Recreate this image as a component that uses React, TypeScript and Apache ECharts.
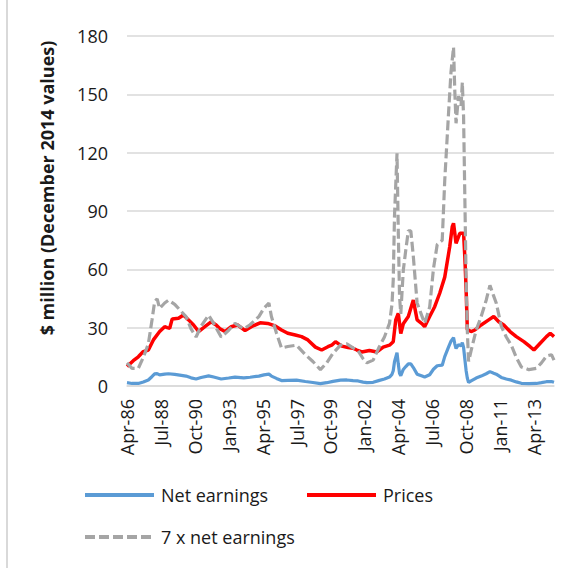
import React, { useEffect, useRef } from "react";
import * as echarts from "echarts";

// Monthly category axis: Apr-86 .. Aug-14
const MONTH_NAMES = ["Jan", "Feb", "Mar", "Apr", "May", "Jun", "Jul", "Aug", "Sep", "Oct", "Nov", "Dec"];
const START_YEAR = 1986;
const START_MONTH = 3; // April
const MONTH_COUNT = 341;
const categories: string[] = Array.from({ length: MONTH_COUNT }, (_, i) => {
  const n = START_MONTH + i;
  const yy = (START_YEAR + Math.floor(n / 12)) % 100;
  return MONTH_NAMES[n % 12] + "-" + String(yy).padStart(2, "0");
});

const yTicks = [0, 30, 60, 90, 120, 150, 180];

// Net earnings ($ million, Dec 2014 values)
const earningsMonths = [
  "Apr-86", "Aug-86", "Jan-87", "May-87", "Sep-87", "Dec-87", "Feb-88", "Apr-88", "Jun-88", "Oct-88",
  "Jan-89", "Jun-89", "Oct-89", "Mar-90", "Jul-90", "Nov-90", "Mar-91", "Sep-91", "Jan-92", "Jul-92",
  "Jan-93", "Jun-93", "Jan-94", "Jun-94", "Jan-95", "May-95", "Sep-95", "Nov-95", "Mar-96", "Jul-96",
  "Dec-96", "Jul-97", "Feb-98", "Aug-98", "Feb-99", "Jul-99", "Dec-99", "Jun-00", "Nov-00", "Apr-01",
  "Aug-01", "Dec-01", "Mar-02", "Aug-02", "Jan-03", "May-03", "Sep-03", "Nov-03", "Dec-03", "Jan-04",
  "Mar-04", "Apr-04", "May-04", "Jun-04", "Aug-04", "Oct-04", "Dec-04", "Feb-05", "Apr-05", "Jul-05",
  "Nov-05", "Jan-06", "May-06", "Aug-06", "Nov-06", "Mar-07", "May-07", "Aug-07", "Oct-07", "Dec-07",
  "Jan-08", "Feb-08", "Apr-08", "Jun-08", "Jul-08", "Aug-08", "Sep-08", "Oct-08", "Nov-08", "Dec-08",
  "Feb-09", "Jun-09", "Oct-09", "Feb-10", "May-10", "Aug-10", "Oct-10", "Feb-11", "Jun-11", "Oct-11",
  "Feb-12", "Jun-12", "Dec-12", "Jun-13", "Oct-13", "Feb-14", "Jun-14", "Aug-14",
];
const earningsValues = [
  1.7, 1.3, 1.3, 2.1, 3.1, 4.9, 6.2, 6.4, 5.7, 6.1,
  6.3, 6.0, 5.6, 5.1, 4.2, 3.6, 4.4, 5.2, 4.6, 3.6,
  4.1, 4.6, 4.2, 4.5, 5.1, 5.7, 6.1, 5.1, 3.9, 2.8,
  2.9, 3.0, 2.3, 1.8, 1.2, 1.7, 2.4, 3.0, 3.1, 2.8,
  2.6, 2.0, 1.7, 1.9, 2.9, 3.6, 4.6, 6.0, 7.8, 12.5,
  17.1, 11.4, 6.6, 5.3, 8.5, 10.0, 11.4, 11.4, 9.5, 6.1,
  5.1, 4.6, 5.8, 8.6, 10.4, 10.7, 15.1, 20.0, 23.1, 24.9,
  21.7, 19.3, 21.3, 20.6, 22.3, 19.8, 13.9, 8.0, 4.0, 1.8,
  2.6, 4.1, 5.1, 6.3, 7.4, 6.6, 6.1, 4.4, 3.6, 3.0,
  2.1, 1.4, 1.2, 1.3, 1.7, 2.2, 2.3, 1.9,
];

// Prices ($ million, Dec 2014 values)
const priceMonths = [
  "Apr-86", "Sep-86", "Jan-87", "May-87", "Sep-87", "Jan-88", "Jun-88", "Oct-88", "Dec-88", "Feb-89",
  "Apr-89", "Sep-89", "Jan-90", "May-90", "Sep-90", "Jan-91", "Jun-91", "Nov-91", "Mar-92", "Jun-92",
  "Oct-92", "Mar-93", "Aug-93", "Feb-94", "Jul-94", "Feb-95", "Aug-95", "Feb-96", "Jul-96", "Dec-96",
  "Jun-97", "Nov-97", "Apr-98", "Oct-98", "Mar-99", "Aug-99", "Nov-99", "Feb-00", "Jul-00", "Dec-00",
  "Apr-01", "Jul-01", "Nov-01", "May-02", "Nov-02", "Apr-03", "Sep-03", "Dec-03", "Feb-04", "Apr-04",
  "Jun-04", "Aug-04", "Dec-04", "Apr-05", "Jul-05", "Nov-05", "Jan-06", "May-06", "Sep-06", "Jan-07",
  "May-07", "Sep-07", "Nov-07", "Dec-07", "Feb-08", "May-08", "Aug-08", "Sep-08", "Oct-08", "Nov-08",
  "Feb-09", "May-09", "Oct-09", "Apr-10", "Aug-10", "Dec-10", "Apr-11", "Sep-11", "Feb-12", "Aug-12",
  "Jan-13", "Apr-13", "Sep-13", "Feb-14", "May-14", "Aug-14",
];
const priceValues = [
  10, 13, 15, 17.7, 18.5, 23.7, 28, 30.5, 30, 29.7,
  34.5, 34.8, 36.5, 34, 31.4, 28, 30.5, 33, 31.4, 29.5,
  28, 30.5, 31.4, 28.5, 30.5, 32.5, 32.2, 30.9, 28.8, 27.1,
  26.2, 25.4, 23.7, 20, 18.5, 20.2, 21, 22.8, 20.5, 19.8,
  19.4, 18.5, 17.5, 18.3, 17.5, 20, 21, 22.8, 34, 37.4,
  27, 32, 35.7, 44.2, 34, 32, 30.5, 35.7, 40.8, 47.7,
  56, 71.7, 82, 83.7, 73.4, 78.5, 78.5, 66.5, 50, 29,
  28, 28.8, 31.4, 34, 35.7, 33, 31.4, 28, 25.4, 22.8,
  20.2, 18.5, 22, 25.4, 27.1, 25.4,
];

const EARNINGS_MULTIPLE = 7;

const FONT = "'Open Sans', 'Noto Sans', sans-serif";
const TEXT_COLOR = "#1a1a1a";
const BLUE = "#5B9BD5";
const RED = "#FF0000";
const GRAY = "#A5A5A5";

export default function App() {
  const ref = useRef<HTMLDivElement>(null);

  useEffect(() => {
    if (!ref.current) return;
    const chart = echarts.init(ref.current, undefined, { renderer: "svg" });

    const earningsData = earningsMonths.map((m, k) => [m, earningsValues[k]]);
    const priceData = priceMonths.map((m, k) => [m, priceValues[k]]);
    const multipleData = earningsMonths.map((m, k) => [
      m,
      Math.round(earningsValues[k] * EARNINGS_MULTIPLE * 100) / 100,
    ]);

    const legendCommon = {
      orient: "horizontal" as const,
      padding: 0,
      itemWidth: 69,
      itemHeight: 14,
      itemGap: 0,
      itemStyle: { opacity: 0 },
      textStyle: { fontFamily: FONT, fontSize: 18, color: TEXT_COLOR, padding: [0, 0, 0, 2] },
      selectedMode: false,
    };

    chart.setOption({
      animation: false,
      backgroundColor: "#ffffff",
      textStyle: { fontFamily: FONT },
      grid: { left: 127, right: 24, top: 36, bottom: 182, containLabel: false },
      legend: [
        {
          ...legendCommon,
          data: ["Net earnings"],
          lineStyle: { color: BLUE, width: 4, type: "solid" },
          left: 83,
          top: 486,
        },
        {
          ...legendCommon,
          data: ["Prices"],
          lineStyle: { color: RED, width: 4, type: "solid" },
          left: 305,
          top: 486,
        },
        {
          ...legendCommon,
          data: ["7 x net earnings"],
          lineStyle: { color: GRAY, width: 4, type: [10, 4] },
          left: 83,
          top: 528,
        },
      ],
      graphic: [
        {
          type: "rect",
          shape: { x: 6, y: 0, width: 2, height: 568 },
          style: { fill: "#D9D9D9" },
          silent: true,
        },
        {
          type: "text",
          x: 47,
          y: 188,
          rotation: Math.PI / 2,
          style: {
            text: "$ million (December 2014 values)",
            font: `bold 18px ${FONT}`,
            fill: TEXT_COLOR,
            textAlign: "center",
            textVerticalAlign: "middle",
          },
        },
      ],
      xAxis: {
        type: "category",
        data: categories,
        boundaryGap: false,
        axisLine: { show: true, lineStyle: { color: "#D9D9D9", width: 1.5 } },
        axisTick: { show: false },
        axisLabel: {
          interval: 26,
          rotate: 90,
          margin: 13,
          fontFamily: FONT,
          fontSize: 18,
          color: TEXT_COLOR,
        },
        splitLine: { show: false },
      },
      yAxis: {
        type: "value",
        min: yTicks[0],
        max: yTicks[yTicks.length - 1],
        interval: 30,
        axisLine: { show: false },
        axisTick: { show: false },
        axisLabel: { margin: 19, fontFamily: FONT, fontSize: 18, color: TEXT_COLOR },
        splitLine: { lineStyle: { color: "#D9D9D9", width: 1.5 } },
      },
      series: [
        {
          name: "Net earnings",
          type: "line",
          data: earningsData,
          symbol: "none",
          lineStyle: { color: BLUE, width: 3.2 },
          itemStyle: { color: BLUE },
        },
        {
          name: "Prices",
          type: "line",
          data: priceData,
          symbol: "none",
          lineStyle: { color: RED, width: 3.5 },
          itemStyle: { color: RED },
        },
        {
          name: "7 x net earnings",
          type: "line",
          data: multipleData,
          symbol: "none",
          lineStyle: { color: GRAY, width: 3.2, type: [10, 4] },
          itemStyle: { color: GRAY },
        },
      ],
    });

    return () => chart.dispose();
  }, []);

  return (
    <div
      ref={ref}
      style={{ position: "fixed", left: 0, top: 0, width: 578, height: 568, background: "#fff" }}
    />
  );
}
